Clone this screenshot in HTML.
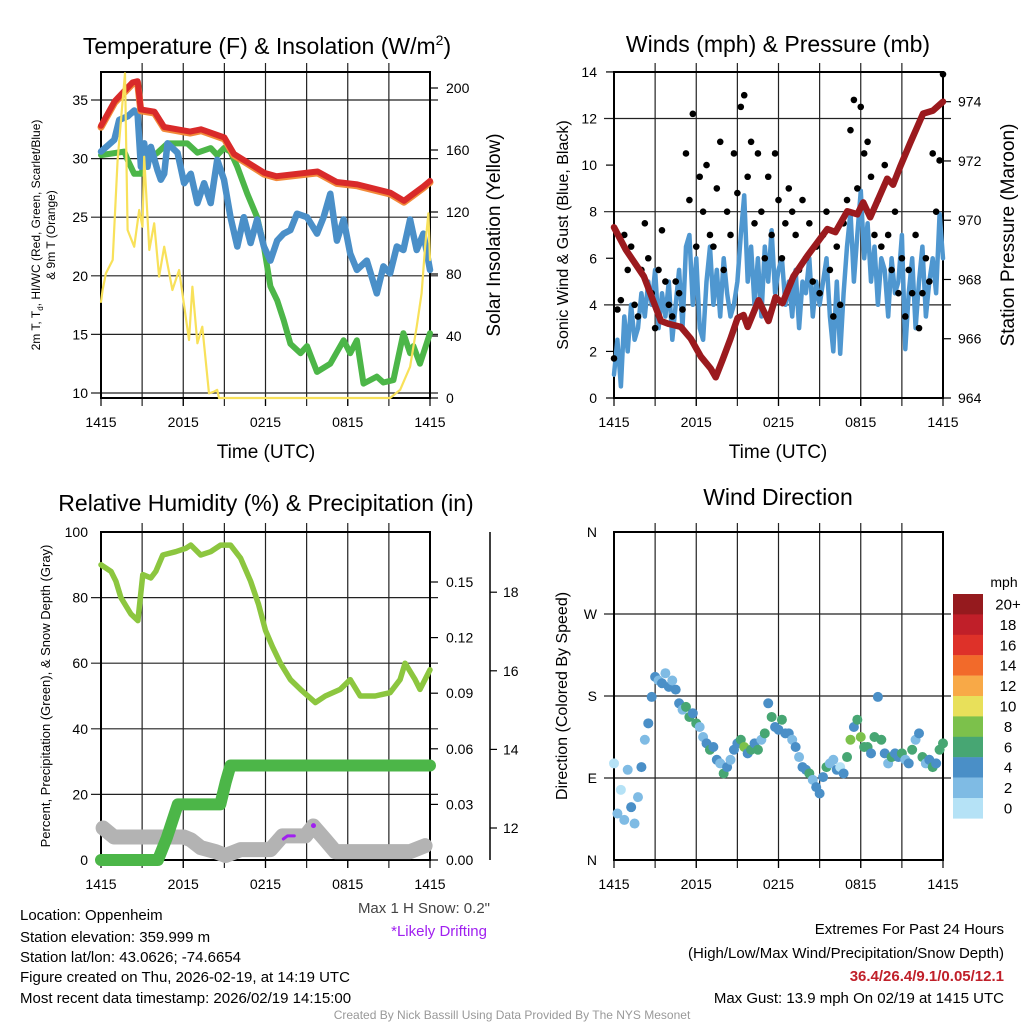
<!DOCTYPE html>
<html><head><meta charset="utf-8"><style>
html,body{margin:0;padding:0;background:#fff;}
svg{display:block;font-family:"Liberation Sans",Arial,sans-serif;}
</style></head><body>
<svg id="fig" width="1024" height="1024" viewBox="0 0 1024 1024">
<rect width="1024" height="1024" fill="#fff"/>
<g id="g1"></g>
<g id="g2"></g>
<g id="g3"></g>
<g id="g4"></g>

<text x="267" y="54" font-size="23" text-anchor="middle">Temperature (F) &amp; Insolation (W/m<tspan font-size="14" dy="-9">2</tspan><tspan dy="9">)</tspan></text>
<text x="778" y="52" font-size="23" text-anchor="middle">Winds (mph) &amp; Pressure (mb)</text>
<text x="266" y="511" font-size="23" text-anchor="middle">Relative Humidity (%) &amp; Precipitation (in)</text>
<text x="778" y="505" font-size="23" text-anchor="middle">Wind Direction</text>

<text x="266" y="458" font-size="19" text-anchor="middle">Time (UTC)</text>
<text x="778" y="458" font-size="19" text-anchor="middle">Time (UTC)</text>

<text transform="translate(40,235) rotate(-90)" font-size="12" text-anchor="middle">2m T, T<tspan font-size="8" dy="3">d</tspan><tspan dy="-3">, HI/WC (Red, Green, Scarlet/Blue)</tspan></text>
<text transform="translate(55,235) rotate(-90)" font-size="12" text-anchor="middle">&amp; 9m T (Orange)</text>
<text transform="translate(500,235) rotate(-90)" font-size="19" text-anchor="middle">Solar Insolation (Yellow)</text>
<text transform="translate(568,235) rotate(-90)" font-size="16" text-anchor="middle">Sonic Wind &amp; Gust (Blue, Black)</text>
<text transform="translate(1014,235) rotate(-90)" font-size="19" text-anchor="middle">Station Pressure (Maroon)</text>
<text transform="translate(50,696) rotate(-90)" font-size="13" text-anchor="middle">Percent, Precipitation (Green), &amp; Snow Depth (Gray)</text>
<text transform="translate(567,696) rotate(-90)" font-size="16" text-anchor="middle">Direction (Colored By Speed)</text>

<g font-size="15">
<text x="20" y="920">Location: Oppenheim</text>
<text x="20" y="942">Station elevation: 359.999 m</text>
<text x="20" y="962">Station lat/lon: 43.0626; -74.6654</text>
<text x="20" y="982">Figure created on Thu, 2026-02-19, at 14:19 UTC</text>
<text x="20" y="1003">Most recent data timestamp: 2026/02/19 14:15:00</text>
</g>
<text x="490" y="913" font-size="15" fill="#444" text-anchor="end">Max 1 H Snow: 0.2"</text>
<text x="487" y="936" font-size="15" fill="#a020f0" text-anchor="end">*Likely Drifting</text>
<g font-size="15" text-anchor="end">
<text x="1004" y="934">Extremes For Past 24 Hours</text>
<text x="1004" y="958">(High/Low/Max Wind/Precipitation/Snow Depth)</text>
<text x="1004" y="981" font-weight="bold" fill="#c0202a">36.4/26.4/9.1/0.05/12.1</text>
<text x="1004" y="1003">Max Gust: 13.9 mph On 02/19 at 1415 UTC</text>
</g>
<text x="512" y="1019" font-size="12" fill="#999" text-anchor="middle">Created By Nick Bassill Using Data Provided By The NYS Mesonet</text>
</svg>
<script>
// ---------- data ----------
const xTickLabels=["1415","2015","0215","0815","1415"];
const tempTicks=[10,15,20,25,30,35];
const solarTicks=[0,40,80,120,160,200];
const windTicks=[0,2,4,6,8,10,12,14];
const presTicks=[964,966,968,970,972,974];
const rhTicks=[0,20,40,60,80,100];
const precipTicks=[0.00,0.03,0.06,0.09,0.12,0.15];
const snowTicks=[12,14,16,18];
const dirTicks=["N","E","S","W","N"];
const speedBins=["0","2","4","6","8","10","12","14","16","18","20+"];
const speedColors=["#b5e2f6","#7fbbe4","#4a8fc7","#47a673","#7cc14b","#e8e05a","#f8a947","#f26a2a","#de3129","#c01f29","#951a1e"];

const tempRedT=[0,1,2.3,2.67,2.9,3.9,4.6,6.5,7.3,9,9.7,11.9,12.8,15.8,17.2,18.7,21.1,22.1,23.5,24];
const tempRedV=[32.8,34.9,36.5,36.6,34.2,34,32.7,32.3,32.5,31.8,30.4,28.8,28.5,28.9,28.0,27.8,27.1,26.4,27.6,28.1];
const tempGreenT=[0,1.7,1.94,2.42,2.91,3.39,4.12,4.85,6.3,7.03,8,8.48,8.97,9.45,9.94,10.67,11.39,11.88,12.36,12.85,13.33,13.82,14.55,15.03,15.76,16.73,17.7,18.18,18.67,19.15,20.12,20.6,21.33,22.06,22.55,22.79,23.27,24];
const tempGreenV=[30.3,30.6,29.9,28.7,28.7,29.9,30.5,31.3,31.3,30.5,30.9,30.3,30.9,30.6,29.3,27.0,25.0,22.5,19.1,17.9,16.2,14.2,13.4,14.0,11.8,12.5,14.5,13.4,14.5,10.8,11.4,10.9,11.1,15.1,13.4,14.0,12.5,15.1];
const tempBlueT=[0,0.97,1.33,1.94,2.42,2.67,2.91,3.15,3.39,3.64,4.12,4.36,4.61,4.85,5.58,6.06,6.55,7.03,7.52,8.0,8.48,8.97,9.45,9.94,10.42,10.91,11.39,11.88,12.36,12.85,13.33,13.82,14.3,15.03,15.76,16.24,16.73,17.21,17.7,18.18,18.67,19.39,20.12,20.6,21.09,21.58,22.06,22.55,23.03,23.52,24];
const tempBlueV=[30.6,31.6,33.3,33.6,34.1,33.8,29.3,31.3,29.3,31.0,29.0,28.2,28.7,31.3,30.5,27.9,28.7,26.2,27.9,26.2,29.9,28.2,25.0,22.5,25.0,22.8,24.8,22.5,21.3,23.0,23.6,23.9,25.3,25.0,23.6,25.0,27.0,23.0,24.8,21.9,20.5,21.3,18.5,20.8,20.2,22.5,22.2,24.8,22.2,23.6,20.5];
const solarT=[0,0.12,0.36,0.85,1.21,1.58,1.75,1.94,2.42,2.79,3.03,3.15,3.52,3.88,4.24,4.61,5.21,5.7,6.42,6.67,7.03,7.39,7.88,8.24,8.48,8.61,21.09,21.82,22.55,23.03,23.39,23.64,23.88,24];
const solarV=[62,69.7,80.4,89.0,153.5,192.3,209.5,108.4,97.6,121.3,110.5,155.7,95.5,112.7,78.3,97.6,69.7,82.6,37.4,71.8,35.3,46.0,3.0,4.1,5.2,0,0,5.2,20.2,46.0,67.5,97.6,119.1,89.0];

const presT=[0,0.87,2.18,3.42,4.0,4.87,5.6,6.33,7.05,7.42,7.93,8.5,9.02,9.45,9.75,10.55,11.27,11.78,12.29,13.09,14.11,15.56,16.15,17.02,17.75,18.18,18.69,19.93,20.36,20.87,21.6,22.55,23.27,24];
const presV=[969.76,969.0,968.1,966.6,966.5,966.4,966.0,965.4,965.0,964.7,965.3,966.0,966.7,966.8,966.4,967.3,966.6,967.4,967.2,968.1,968.8,969.7,969.6,970.3,970.2,970.6,970.1,971.4,971.2,971.8,972.6,973.6,973.7,974.0];
const windSpeed=[1.0,2.5,0.5,3.5,2.0,4.0,2.5,3.0,4.5,
 3.5,5.0,4.0,5.5,3.0,4.5,3.5,5.0,2.5,4.0,5.5,3.0,
 6.5,7.0,4.0,6.0,3.0,2.5,5.0,6.5,
 4.0,5.5,3.5,6.0,4.5,3.5,4.0,5.0,
 7.0,8.7,5.0,6.5,4.0,6.0,3.5,6.5,
 5.0,7.2,4.5,5.5,6.0,4.0,5.0,3.5,
 5.5,3.0,5.0,4.5,6.0,3.5,5.0,4.0,
 5.0,6.0,3.5,2.0,5.0,1.9,4.5,6.5,
 8.0,5.0,7.0,8.9,6.0,7.5,5.0,6.5,
 4.0,6.0,5.5,3.5,6.0,4.5,5.0,7.0,
 2.1,4.5,6.0,3.0,5.0,6.5,3.5,5.0,
 6.0,4.5,7.9,6.0];
const windGust=[1.7,3.8,4.2,7.0,5.5,6.5,4.0,3.5,5.5,
 7.5,6.0,4.5,3.0,5.5,7.2,5.0,4.0,3.5,5.0,4.5,3.8,
 10.5,8.5,12.2,6.5,9.5,8.0,10.0,7.0,
 6.5,9.0,11.0,5.5,8.0,7.0,10.5,8.8,
 12.5,13.0,9.5,11.0,7.5,10.5,8.0,6.0,
 9.5,7.0,10.5,8.5,6.0,7.5,9.0,8.0,
 7.0,5.5,8.5,6.0,7.5,5.0,6.5,4.5,
 7.0,8.0,5.5,3.5,6.5,4.0,7.5,8.5,
 11.5,12.8,9.0,12.5,10.5,11.0,9.5,7.0,
 8.5,6.5,10.0,7.0,5.5,8.0,4.5,6.0,
 3.5,5.5,4.5,7.0,3.0,4.5,6.0,5.0,
 10.5,8.0,10.2,13.9];
const windDir=[106,51,77,44,99,58,40,69,102,132,150,179,201,197,194,205,190,197,187,172,165,168,157,161,150,146,135,128,121,124,110,106,95,102,110,121,128,132,124,117,121,128,121,132,139,172,157,146,143,154,139,139,132,124,113,102,99,95,88,80,73,91,102,106,110,99,102,95,113,132,146,154,135,124,124,117,135,179,132,117,106,113,117,113,117,110,106,121,132,139,113,106,110,102,106,121,128];

const rhT=[0,.73,1.09,1.45,2.18,2.69,3.05,3.64,4,4.51,5.45,6.18,6.55,7.27,8,8.73,9.45,10.18,10.91,11.49,12,12.51,13.09,13.82,14.55,15.64,16.36,17.45,18.18,18.91,20,21.09,21.82,22.18,22.91,23.27,24];
const rhV=[90,88,85,80,75,73,87,86,88,93,94,95,96,93,94,96,96,92,85,78,70,65,60,55,52,48,50,52,55,50,50,51,55,60,55,52,58];
const precipT=[0,4.15,4.8,5.6,8.7,9.1,9.45,24];
const precipV=[0,0,0.012,0.03,0.03,0.042,0.051,0.051];
const snowT=[0.15,0.95,6.04,6.55,7.27,8.36,9.09,10.18,12.36,13.24,14.91,15.49,16.36,17.09,22.55,23.64];
const snowV=[12.0,11.77,11.77,11.7,11.5,11.4,11.3,11.45,11.45,11.8,11.8,12.05,11.7,11.4,11.4,11.55];
const driftT=[13.3,13.6,14.1];
const driftV=[11.72,11.8,11.8];
const driftDotT=[15.5];
const driftDotV=[12.06];

// ---------- scales ----------
const W=329;
const xL=h=>101+h*W/24, xR=h=>614+h*W/24;
const yTemp=v=>393-(v-10)*11.72, ySolar=v=>398-v*1.55;
const yWind=v=>398-v*23.29, yPres=v=>398-(v-964)*29.63;
const yRH=v=>860-v*3.28, yPrec=v=>860-v*(55.6/0.03), ySnow=v=>828-(v-12)*39.3;
const yDir=d=>860-d*328/360;
const NS="http://www.w3.org/2000/svg";
function el(tag,parent){const e=document.createElementNS(NS,tag);parent.appendChild(e);return e;}
function line(p,x1,y1,x2,y2,c,w){const e=el("line",p);e.setAttribute("x1",x1);e.setAttribute("y1",y1);e.setAttribute("x2",x2);e.setAttribute("y2",y2);e.setAttribute("stroke",c);e.setAttribute("stroke-width",w);return e;}
function txt(p,x,y,s,size,anchor){const e=el("text",p);e.setAttribute("x",x);e.setAttribute("y",y);e.setAttribute("font-size",size);e.setAttribute("text-anchor",anchor);e.textContent=s;return e;}
function series(p,xs,ys,T,V,color,width){let d="";for(let i=0;i<T.length;i++){d+=(i?"L":"M")+xs(T[i]).toFixed(1)+","+ys(V[i]).toFixed(1);}const e=el("path",p);e.setAttribute("d",d);e.setAttribute("fill","none");e.setAttribute("stroke",color);e.setAttribute("stroke-width",width);e.setAttribute("stroke-linejoin","round");e.setAttribute("stroke-linecap","round");return e;}

function frame(p,x0,y0,x1,y1,xs,hTop,hBot){
  for(let k=1;k<8;k++){const gl=line(p,xs(k*3),hTop,xs(k*3),hBot,"#222",1.2);
    
    }
  for(let k=0;k<5;k++){const tl=txt(p,xs(k*6),y1+29,xTickLabels[k],14,"middle");
    
    
    const tk=line(p,xs(k*6),y1,xs(k*6),y1+8,"#000",1.2);
    
    }
  const r=el("rect",p);r.setAttribute("x",x0);r.setAttribute("y",y0);r.setAttribute("width",x1-x0);r.setAttribute("height",y1-y0);r.setAttribute("fill","none");r.setAttribute("stroke","#000");r.setAttribute("stroke-width",2);
  
  
}
function hgrid(p,x0,x1,y,grid){const g=line(p,grid?x0-10:x0-8,y,grid?x1+8:x0,y,"#222",1.2);
  
  }

// ---------- panel 1 ----------
const g1=document.getElementById("g1");
tempTicks.forEach(v=>{hgrid(g1,101,430,yTemp(v),true);const t=txt(g1,88,yTemp(v)+5,String(v),14,"end");
  
  });
solarTicks.forEach(v=>{const tk=line(g1,430,ySolar(v),438,ySolar(v),"#000",1.2);
  
  
  const t=txt(g1,446,ySolar(v)+5,String(v),14,"start");
  
  });
frame(g1,101,72,430,398,xL,63,406);
let s;
s=series(g1,xL,yTemp,tempGreenT,tempGreenV,"#4cb648",6);


s=series(g1,xL,yTemp,tempBlueT,tempBlueV,"#4a8fc8",6.5);


s=series(g1,xL,yTemp,tempRedT,tempRedV.map(v=>v-0.12),"#f28a3a",7);


s=series(g1,xL,yTemp,tempRedT,tempRedV,"#d92a2a",6);


s=series(g1,xL,ySolar,solarT,solarV,"#f8e15a",2.2);



// ---------- panel 2 ----------
const g2=document.getElementById("g2");
windTicks.forEach(v=>{if(v%4==0&&v>0&&v<14)hgrid(g2,614,943,yWind(v),true);else{const k=line(g2,606,yWind(v),614,yWind(v),"#000",1.2);}
  const t=txt(g2,597,yWind(v)+5,String(v),14,"end");
  
  });
presTicks.forEach(v=>{const tk=line(g2,943,yPres(v),951,yPres(v),"#000",1.2);
  
  
  const t=txt(g2,958,yPres(v)+5,String(v),14,"start");
  
  });
frame(g2,614,72,943,398,xR,63,406);
const windT=windSpeed.map((_,i)=>i*0.25);
s=series(g2,xR,yWind,windT,windSpeed,"#4f97d0",4.5);


windGust.forEach((v,i)=>{const c=el("circle",g2);c.setAttribute("cx",xR(i*0.25));c.setAttribute("cy",yWind(v));c.setAttribute("r",3.3);c.setAttribute("fill","#000");
  
  });
s=series(g2,xR,yPres,presT,presV,"#9b1a1e",6.5);



// ---------- panel 3 ----------
const g3=document.getElementById("g3");
rhTicks.forEach(v=>{if(v>0&&v<100)hgrid(g3,101,430,yRH(v),true);
  const t=txt(g3,88,yRH(v)+5,String(v),14,"end");
  
  });
precipTicks.forEach(v=>{const tk=line(g3,430,yPrec(v),438,yPrec(v),"#000",1.2);
  
  
  const t=txt(g3,446,yPrec(v)+5,v.toFixed(2),14,"start");
  
  });
const sa=line(g3,490,532,490,860,"#000",1.5);


snowTicks.forEach(v=>{const tk=line(g3,490,ySnow(v),497,ySnow(v),"#000",1.2);
  
  
  const t=txt(g3,503,ySnow(v)+5,String(v),14,"start");
  
  });
frame(g3,101,532,430,860,xL,523,868);
s=series(g3,xL,ySnow,snowT,snowV,"#b3b3b3",15);


s=series(g3,xL,ySnow,driftT,driftV,"#a020f0",3);


driftDotT.forEach((t,i)=>{const c=el("circle",g3);c.setAttribute("cx",xL(t));c.setAttribute("cy",ySnow(driftDotV[i]));c.setAttribute("r",2.5);c.setAttribute("fill","#a020f0");
  
  });
s=series(g3,xL,yPrec,precipT,precipV,"#4cb648",12);


s=series(g3,xL,yRH,rhT,rhV,"#8cc63f",5.5);



// ---------- panel 4 ----------
const g4=document.getElementById("g4");
dirTicks.forEach((lab,i)=>{if(i>0&&i<4)hgrid(g4,614,943,yDir(i*90),true);
  const t=txt(g4,597,yDir(i*90)+5,lab,14,"end");
  
  });
frame(g4,614,532,943,860,xR,523,868);
windDir.forEach((d,i)=>{const sp=windSpeed[i];const b=Math.max(0,Math.min(10,Math.floor(sp/2)));
  const c=el("circle",g4);c.setAttribute("cx",xR(i*0.25));c.setAttribute("cy",yDir(d));c.setAttribute("r",5);c.setAttribute("fill",speedColors[b]);
  
  });
// legend
const lt=txt(g4,1004,587,"mph",14,"middle");


speedBins.forEach((lab,i)=>{const k=10-i;const y=594+i*20.4;
  const r=el("rect",g4);r.setAttribute("x",953);r.setAttribute("y",y);r.setAttribute("width",30);r.setAttribute("height",20.6);r.setAttribute("fill",speedColors[10-i]);
  
  
  const t=txt(g4,1008,y+15.5,speedBins[k],15,"middle");
  
  });
</script>
</body></html>
